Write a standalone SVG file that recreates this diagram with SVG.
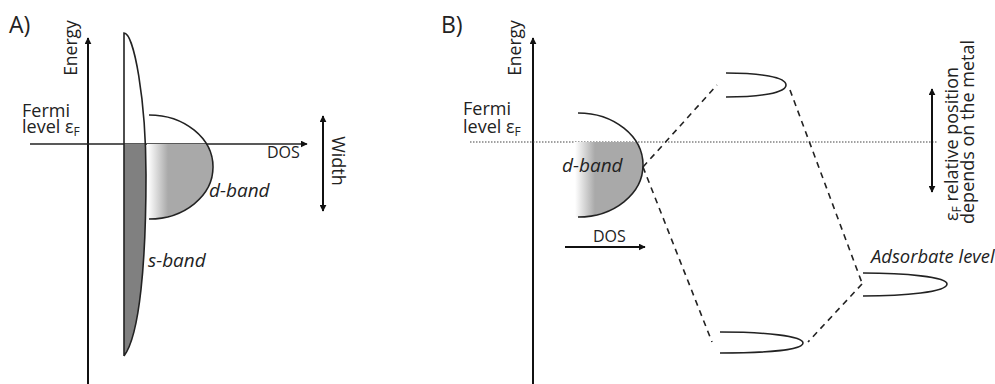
<svg xmlns="http://www.w3.org/2000/svg" width="995" height="384" viewBox="0 0 995 384">
<defs>
<marker id="ah" viewBox="0 0 10 10" refX="9" refY="5" markerWidth="7" markerHeight="7" markerUnits="userSpaceOnUse" orient="auto-start-reverse">
<path d="M0,0 L10,5 L0,10 Z" fill="#111"/>
</marker>
<linearGradient id="gA" x1="148" y1="0" x2="168" y2="0" gradientUnits="userSpaceOnUse">
<stop offset="0" stop-color="#ffffff"/>
<stop offset="1" stop-color="#a9a9a9"/>
</linearGradient>
<linearGradient id="gB" x1="575" y1="0" x2="595" y2="0" gradientUnits="userSpaceOnUse">
<stop offset="0" stop-color="#ffffff"/>
<stop offset="1" stop-color="#a9a9a9"/>
</linearGradient>
<clipPath id="belowA"><rect x="0" y="144" width="400" height="240"/></clipPath>
</defs>
<style>
text{font-family:"Open Sans","Liberation Sans",sans-serif;fill:#222;}
.t{font-size:18px;}
.e{font-size:17.5px;}
.d{font-size:16px;}
.s{font-size:18px;}
.i{font-size:19px;font-style:italic;}
.ax{stroke:#111;stroke-width:2;fill:none;}
.ln{stroke:#222;stroke-width:1.6;fill:none;}
.dash{stroke:#222;stroke-width:1.6;fill:none;stroke-dasharray:6,5;}
.dot{stroke:#444;stroke-width:1.2;fill:none;stroke-dasharray:1.5,1.5;}
</style>

<!-- Panel A -->
<g id="labelA"><text x="9" y="33" style="font-size:23px">A)</text></g>
<g id="energyAxisA">
<line class="ax" x1="88" y1="384" x2="88" y2="38" marker-end="url(#ah)"/>
<text class="e" transform="translate(77,48) rotate(-90)" text-anchor="middle">Energy</text>
</g>
<g id="dosAxisA">
<line class="ln" x1="30" y1="144" x2="307" y2="144" stroke-width="1.5" marker-end="url(#ah)"/>
<text class="d" x="267" y="158">DOS</text>
</g>
<g id="fermiA">
<text class="t" x="22" y="117">Fermi</text>
<text class="t" x="22" y="133">level ε<tspan font-size="12" dy="3">F</tspan></text>
</g>
<g id="sband">
<path d="M124,33 C 134,33 146,100 146,175 C 146,260 140,335 124,356 Z" fill="#808080" clip-path="url(#belowA)"/>
<path class="ln" d="M124,356 L124,33 C 134,33 146,100 146,175 C 146,260 140,335 124,356"/>
<text class="i" x="148" y="267">s-band</text>
</g>
<g id="dbandA">
<path d="M147,144 L206,144 A64,52 0 0 1 149,219 L147,219 Z" fill="url(#gA)"/>
<path class="ln" d="M149,115 A64,52 0 0 1 149,219"/>
<text class="i" x="209" y="197">d-band</text>
</g>
<g id="widthArrow">
<line class="ax" x1="323" y1="116" x2="323" y2="211" stroke-width="1.8" marker-start="url(#ah)" marker-end="url(#ah)"/>
<text class="s" transform="translate(332,161) rotate(90)" text-anchor="middle">Width</text>
</g>

<!-- Panel B -->
<g id="labelB"><text x="441" y="33" style="font-size:23px">B)</text></g>
<g id="energyAxisB">
<line class="ax" x1="533" y1="384" x2="533" y2="38" marker-end="url(#ah)"/>
<text class="e" transform="translate(521,48) rotate(-90)" text-anchor="middle">Energy</text>
</g>
<g id="fermiB">
<line class="dot" x1="470" y1="142" x2="937" y2="142"/>
<text class="t" x="463" y="115">Fermi</text>
<text class="t" x="463" y="133">level ε<tspan font-size="12" dy="3">F</tspan></text>
</g>
<g id="dbandB">
<path d="M574,142 L636,142 A65,52 0 0 1 578,217 L574,217 Z" fill="url(#gB)"/>
<path class="ln" d="M578,113 A65,52 0 0 1 578,217"/>
<text class="i" x="562" y="172">d-band</text>
</g>
<g id="dosArrowB">
<line class="ax" x1="565" y1="247" x2="645" y2="247" marker-end="url(#ah)"/>
<text class="d" x="593" y="242">DOS</text>
</g>
<g id="antibonding">
<path class="ln" d="M726,73 C 760,73 786,77 786,85 C 786,93 760,97 726,97"/>
</g>
<g id="bonding">
<path class="ln" d="M720,332 C 765,332 803,336 803,343 C 803,350 765,353 720,353"/>
</g>
<g id="adsorbate">
<path class="ln" d="M863,273 C 905,273 947,277 947,284 C 947,292 905,296 863,296"/>
<text class="i" x="871" y="263" style="font-size:18.4px">Adsorbate level</text>
</g>
<g id="connectors">
<line class="dash" x1="643" y1="167" x2="717" y2="85"/>
<line class="dash" x1="643" y1="167" x2="712" y2="342"/>
<line class="dash" x1="790" y1="90" x2="862" y2="283"/>
<line class="dash" x1="862" y1="284" x2="808" y2="342"/>
</g>
<g id="efArrow">
<line class="ax" x1="932" y1="89" x2="932" y2="192" stroke-width="1.8" marker-start="url(#ah)" marker-end="url(#ah)"/>
<text class="s" transform="translate(958,221) rotate(-90)">ε<tspan font-size="12" dy="3">F</tspan><tspan dy="-3"> relative position</tspan></text>
<text class="s" transform="translate(974,224) rotate(-90)">depends on the metal</text>
</g>
</svg>
